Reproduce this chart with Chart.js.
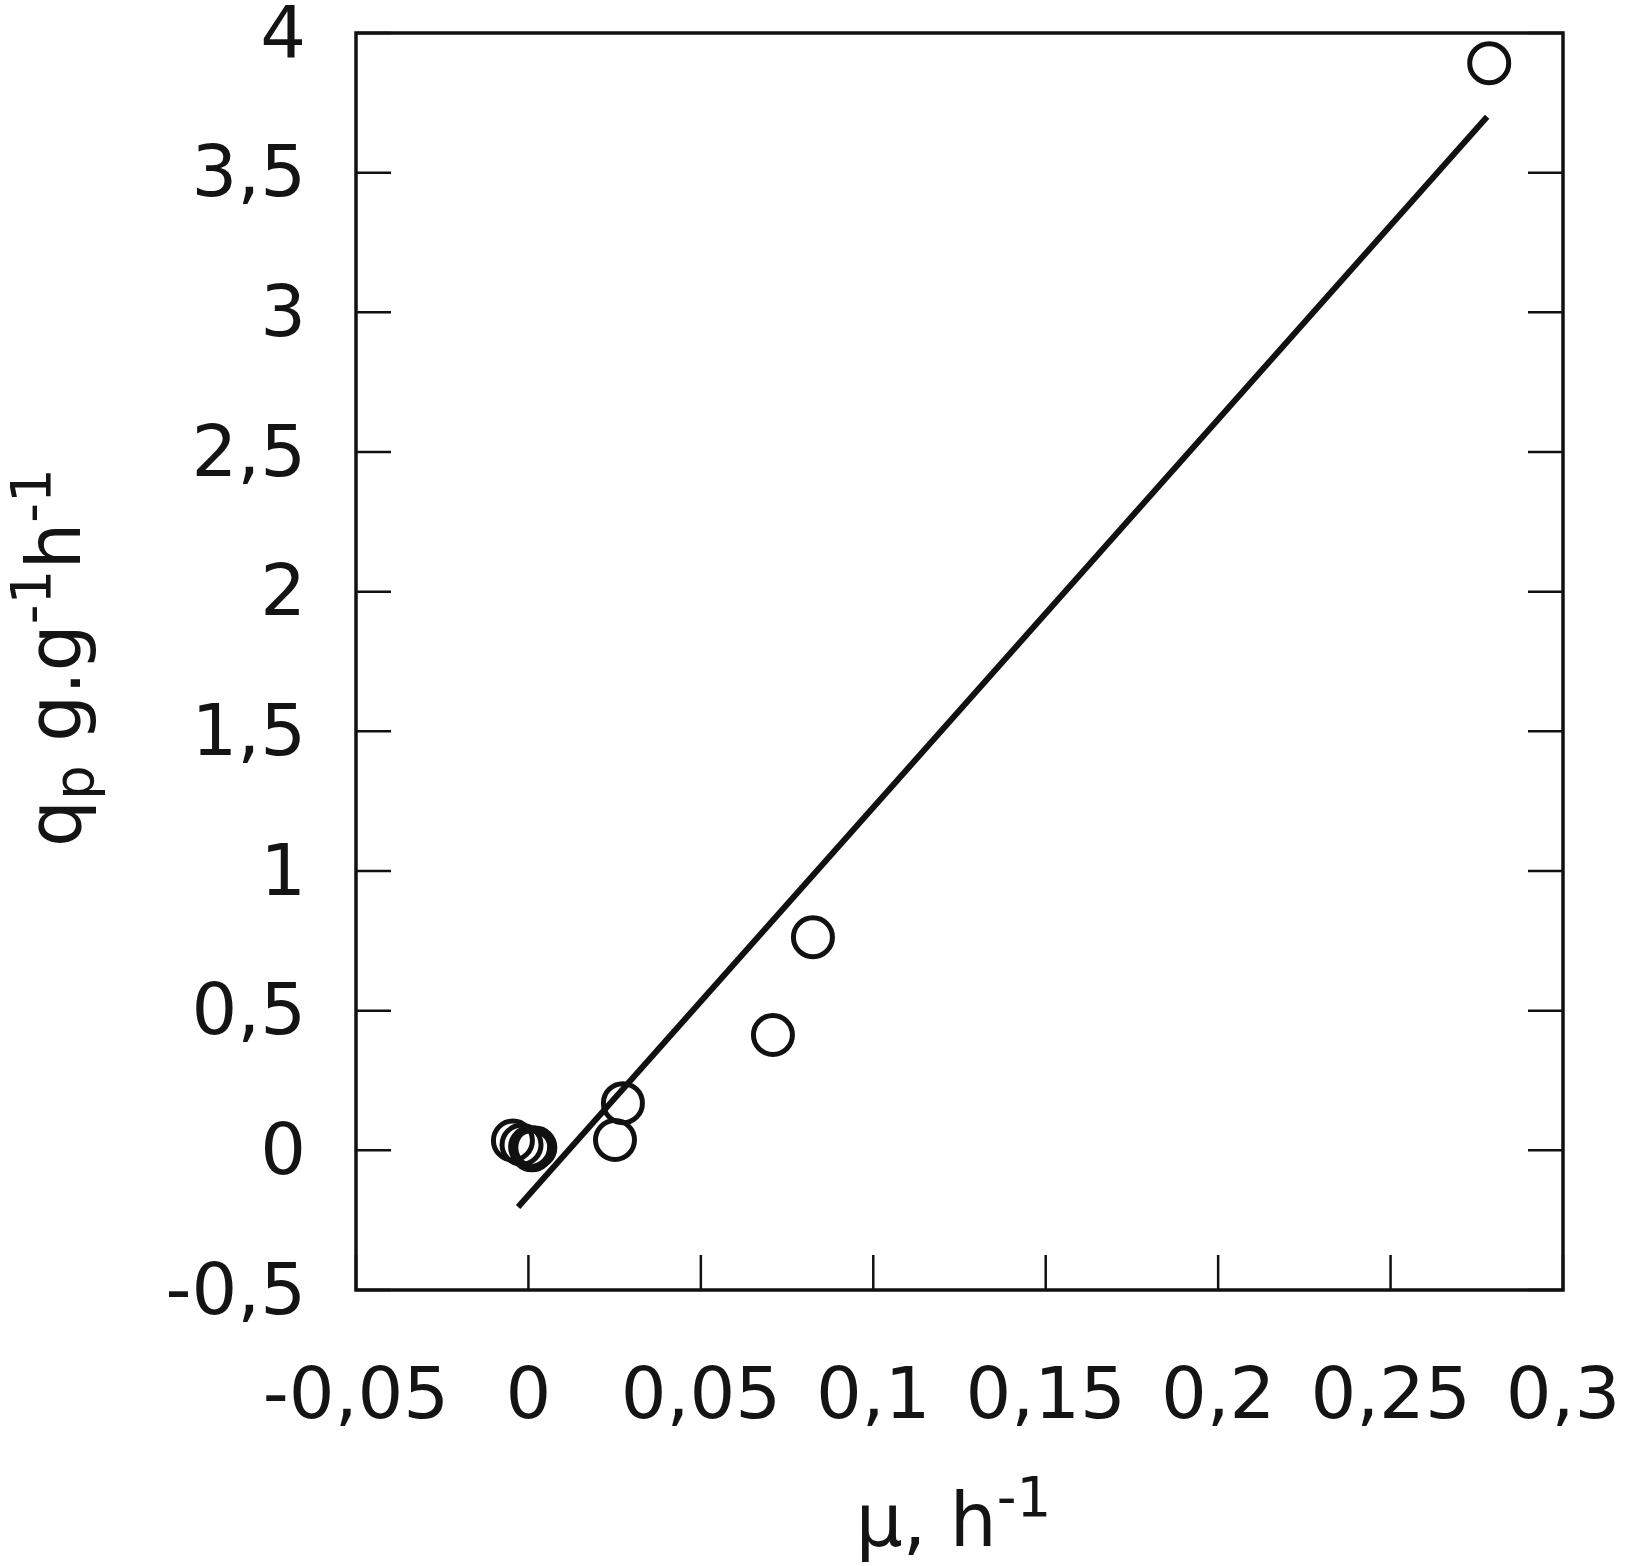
<!DOCTYPE html>
<html>
<head>
<meta charset="utf-8">
<script src="https://cdn.jsdelivr.net/npm/chart.js@4.4.0/dist/chart.umd.min.js"></script>
<style>
  body { margin: 0; background: #fff; }
  canvas { display: block; }
</style>
</head>
<body>
<canvas id="myChart" width="1633" height="1566"></canvas>
<script>
// measured points (mu, qp)
const muValues = [-0.0045, -0.002, 0.0005, 0.002, 0.001, 0.0251, 0.0274, 0.0709, 0.0825, 0.2786];
const qpValues = [0.035, 0.02, 0.012, 0.01, 0.0, 0.037, 0.169, 0.413, 0.763, 3.892];
// regression line end points
const fitX = [-0.003, 0.278];
const fitY = [-0.203, 3.70];
// tick labels
const xTickLabels = ["-0,05", "0", "0,05", "0,1", "0,15", "0,2", "0,25", "0,3"];
const yTickLabels = ["-0,5", "0", "0,5", "1", "1,5", "2", "2,5", "3", "3,5", "4"];

const FONT = "DejaVu Sans";
const TXT = "#141414";

let pts = [];
for (let i = 0; i < muValues.length; i++) pts.push({x: muValues[i], y: qpValues[i]});
let fit = [];
for (let i = 0; i < fitX.length; i++) fit.push({x: fitX[i], y: fitY[i]});

// draws text pieces with sub/superscripts, centred on 0 along the baseline
function drawRich(ctx, parts, size) {
  let w = 0;
  for (let p of parts) {
    ctx.font = (p.sub || p.sup ? size * 0.74 : size) + "px '" + FONT + "'";
    p.w = ctx.measureText(p.t).width;
    w += p.w;
  }
  let x = -w / 2;
  ctx.textBaseline = "alphabetic";
  ctx.textAlign = "left";
  for (let p of parts) {
    ctx.font = (p.sub || p.sup ? size * 0.74 : size) + "px '" + FONT + "'";
    let dy = p.sup ? -30 : (p.sub ? 13 : 0);
    ctx.fillText(p.t, x, dy);
    x += p.w;
  }
}

const frame = {
  id: "frame",
  afterDraw(chart) {
    let ctx = chart.ctx;
    let a = chart.chartArea;
    let xs = chart.scales.x, ys = chart.scales.y;
    ctx.save();
    ctx.strokeStyle = "#111";
    ctx.lineWidth = 2.5;
    ctx.beginPath();
    for (let t of xs.ticks) {
      let px = xs.getPixelForValue(t.value);
      ctx.moveTo(px, a.bottom);
      ctx.lineTo(px, a.bottom - 35);
    }
    for (let t of ys.ticks) {
      let py = ys.getPixelForValue(t.value);
      ctx.moveTo(a.left, py);
      ctx.lineTo(a.left + 35, py);
      ctx.moveTo(a.right, py);
      ctx.lineTo(a.right - 35, py);
    }
    ctx.stroke();
    ctx.lineWidth = 3.5;
    ctx.strokeRect(a.left, a.top, a.right - a.left, a.bottom - a.top);

    ctx.fillStyle = TXT;
    // x title
    ctx.save();
    ctx.translate((a.left + a.right) / 2 - 6, 1546);
    drawRich(ctx, [{t: "\u03bc, h"}, {t: "-1", sup: true}], 74);
    ctx.restore();
    // y title
    ctx.save();
    ctx.translate(80, (a.top + a.bottom) / 2 - 4);
    ctx.rotate(-Math.PI / 2);
    drawRich(ctx, [{t: "q"}, {t: "p", sub: true}, {t: " g.g"}, {t: "-1", sup: true}, {t: "h"}, {t: "-1", sup: true}], 74);
    ctx.restore();
    ctx.restore();
  }
};

new Chart(document.getElementById("myChart"), {
  type: "scatter",
  data: {
    datasets: [{
      label: "data",
      data: pts,
      pointStyle: "circle",
      pointRadius: 19.5,
      pointBorderWidth: 5,
      borderColor: "#111",
      backgroundColor: "rgba(0,0,0,0)",
      clip: false
    }, {
      label: "fit",
      data: fit,
      showLine: true,
      pointRadius: 0,
      borderColor: "#111",
      borderWidth: 6,
      clip: false
    }]
  },
  options: {
    responsive: false,
    animation: false,
    devicePixelRatio: 1,
    layout: { padding: { left: 0, top: 33, right: 70, bottom: 0 } },
    plugins: { legend: { display: false }, tooltip: { enabled: false } },
    scales: {
      x: {
        type: "linear", min: -0.05, max: 0.3,
        grid: { display: false, drawTicks: false },
        border: { display: false },
        ticks: {
          stepSize: 0.05, padding: 66, color: TXT,
          font: { family: FONT, size: 72 },
          maxRotation: 0, autoSkip: false,
          callback: (v, i) => xTickLabels[i]
        },
        afterFit: s => { s.height = 276; s.paddingLeft = 0; s.paddingRight = 0; }
      },
      y: {
        type: "linear", min: -0.5, max: 4,
        grid: { display: false, drawTicks: false },
        border: { display: false },
        ticks: {
          stepSize: 0.5, padding: 50, color: TXT, labelOffset: 5,
          font: { family: FONT, size: 72 },
          autoSkip: false,
          callback: (v, i) => yTickLabels[i]
        },
        afterFit: s => { s.width = 356; s.paddingTop = 0; s.paddingBottom = 0; }
      }
    }
  },
  plugins: [frame]
});
</script>
</body>
</html>
